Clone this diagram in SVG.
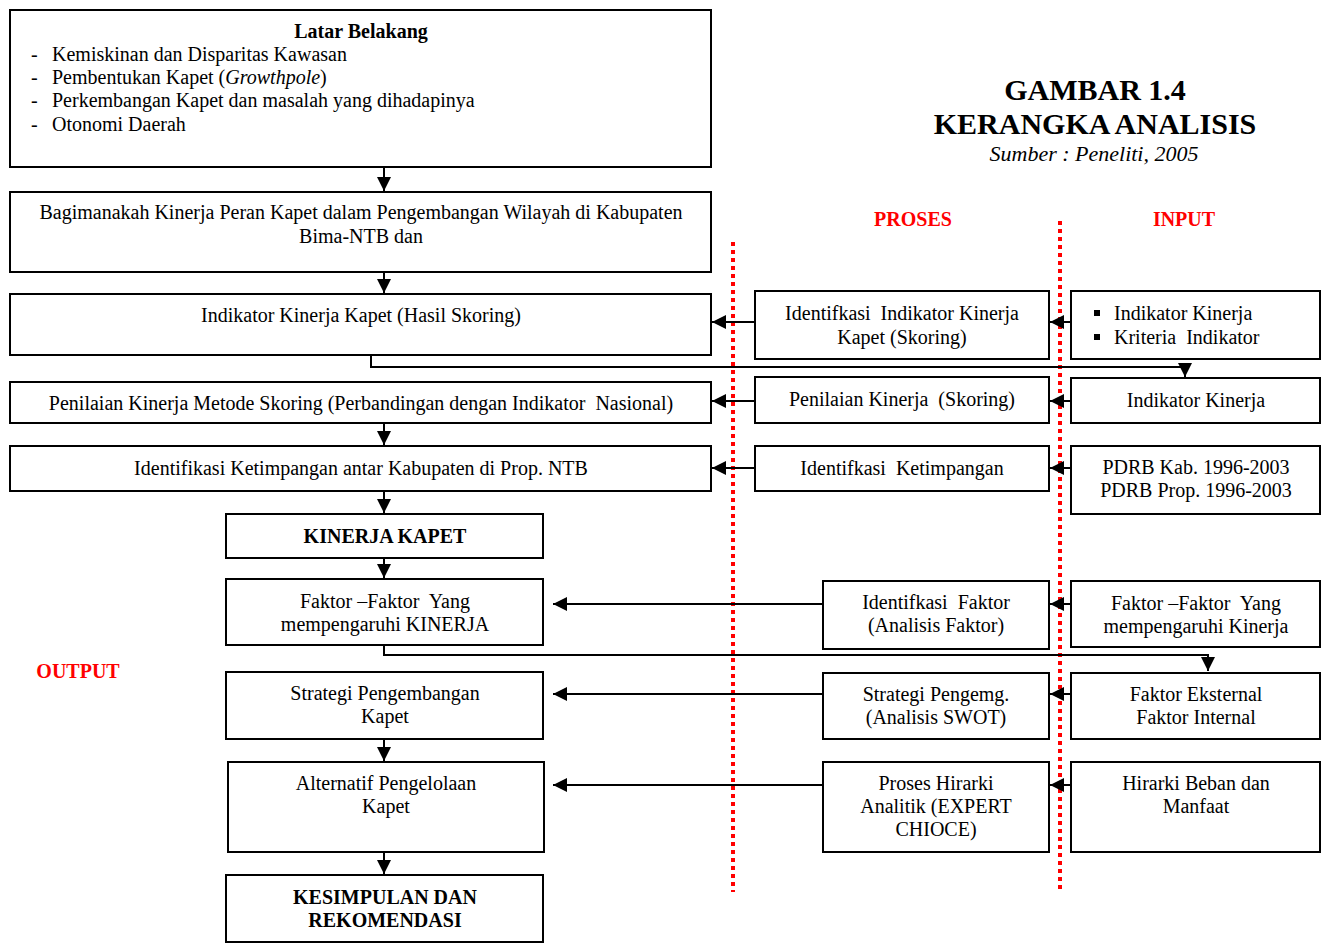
<svg xmlns="http://www.w3.org/2000/svg" width="1332" height="948" viewBox="0 0 1332 948" xml:space="preserve">
<style>
.b{fill:#fff;stroke:#000;stroke-width:2}
.t{font-family:"Liberation Serif","Times New Roman",serif;font-size:20px;fill:#000;text-anchor:middle;white-space:pre}
.l{text-anchor:start}
.bd{font-weight:bold}
.c{stroke:#000;stroke-width:2;fill:none}
.red{font-family:"Liberation Serif","Times New Roman",serif;font-size:20px;font-weight:bold;fill:#ff0000;text-anchor:middle}
.dot{stroke:#ff0000;stroke-width:4;stroke-dasharray:4 4;fill:none}
</style>
<defs>
<marker id="ah" markerUnits="userSpaceOnUse" markerWidth="16" markerHeight="16" viewBox="0 0 16 16" refX="14" refY="8" orient="auto">
<path d="M0,1 L14,8 L0,15 Z" fill="#000"/>
</marker>
</defs>
<rect width="1332" height="948" fill="#fff"/>
<g id="title">
<text class="t bd" x="1095" y="100" style="font-size:30px">GAMBAR 1.4</text>
<text class="t bd" x="1095" y="134" style="font-size:30px">KERANGKA ANALISIS</text>
<text class="t" x="1094" y="161" style="font-style:italic;font-size:22px">Sumber : Peneliti, 2005</text>
</g>
<g id="labels">
<text class="red" x="913" y="226">PROSES</text>
<text class="red" x="1184" y="226">INPUT</text>
<text class="red" x="78" y="678">OUTPUT</text>
</g>
<g id="dividers">
<line class="dot" x1="733" y1="242" x2="733" y2="892"/>
<line class="dot" x1="1060" y1="221" x2="1060" y2="892"/>
</g>
<g id="latar">
<rect class="b" x="10" y="10" width="701" height="157"/>
<text class="t bd" x="361" y="38">Latar Belakang</text>
<text class="t l" x="31" y="61">-</text><text class="t l" x="52" y="61">Kemiskinan dan Disparitas Kawasan</text>
<text class="t l" x="31" y="84">-</text><text class="t l" x="52" y="84">Pembentukan Kapet (<tspan font-style="italic">Growthpole</tspan>)</text>
<text class="t l" x="31" y="107">-</text><text class="t l" x="52" y="107">Perkembangan Kapet dan masalah yang dihadapinya</text>
<text class="t l" x="31" y="131">-</text><text class="t l" x="52" y="131">Otonomi Daerah</text>
</g>
<g id="rumusan">
<rect class="b" x="10" y="192" width="701" height="80"/>
<text class="t" x="361" y="219">Bagimanakah Kinerja Peran Kapet dalam Pengembangan Wilayah di Kabupaten</text>
<text class="t" x="361" y="243">Bima-NTB dan</text>
</g>
<g id="o_indikator">
<rect class="b" x="10" y="294" width="701" height="61"/>
<text class="t" x="361" y="322">Indikator Kinerja Kapet (Hasil Skoring)</text>
</g>
<g id="o_penilaian">
<rect class="b" x="10" y="382" width="701" height="41"/>
<text class="t" x="361" y="410">Penilaian Kinerja Metode Skoring (Perbandingan dengan Indikator  Nasional)</text>
</g>
<g id="o_ketimpangan">
<rect class="b" x="10" y="446" width="701" height="45"/>
<text class="t" x="361" y="475">Identifikasi Ketimpangan antar Kabupaten di Prop. NTB</text>
</g>
<g id="o_kinerja">
<rect class="b" x="226" y="514" width="317" height="44"/>
<text class="t bd" x="385" y="543">KINERJA KAPET</text>
</g>
<g id="o_faktor">
<rect class="b" x="226" y="579" width="317" height="66"/>
<text class="t" x="385" y="608">Faktor –Faktor  Yang</text>
<text class="t" x="385" y="631">mempengaruhi KINERJA</text>
</g>
<g id="o_strategi">
<rect class="b" x="226" y="672" width="317" height="67"/>
<text class="t" x="385" y="700">Strategi Pengembangan</text>
<text class="t" x="385" y="723">Kapet</text>
</g>
<g id="o_alternatif">
<rect class="b" x="228" y="762" width="316" height="90"/>
<text class="t" x="386" y="790">Alternatif Pengelolaan</text>
<text class="t" x="386" y="813">Kapet</text>
</g>
<g id="o_kesimpulan">
<rect class="b" x="226" y="875" width="317" height="67"/>
<text class="t bd" x="385" y="904">KESIMPULAN DAN</text>
<text class="t bd" x="385" y="927">REKOMENDASI</text>
</g>
<g id="p1">
<rect class="b" x="755" y="291" width="294" height="68"/>
<text class="t" x="902" y="320">Identifkasi  Indikator Kinerja</text>
<text class="t" x="902" y="344">Kapet (Skoring)</text>
</g>
<g id="p2">
<rect class="b" x="755" y="377" width="294" height="46"/>
<text class="t" x="902" y="406">Penilaian Kinerja  (Skoring)</text>
</g>
<g id="p3">
<rect class="b" x="755" y="446" width="294" height="45"/>
<text class="t" x="902" y="475">Identifkasi  Ketimpangan</text>
</g>
<g id="p4">
<rect class="b" x="823" y="581" width="226" height="68"/>
<text class="t" x="936" y="609">Identifkasi  Faktor</text>
<text class="t" x="936" y="632">(Analisis Faktor)</text>
</g>
<g id="p5">
<rect class="b" x="823" y="673" width="226" height="66"/>
<text class="t" x="936" y="701">Strategi Pengemg.</text>
<text class="t" x="936" y="724">(Analisis SWOT)</text>
</g>
<g id="p6">
<rect class="b" x="823" y="762" width="226" height="90"/>
<text class="t" x="936" y="790">Proses Hirarki</text>
<text class="t" x="936" y="813">Analitik (EXPERT</text>
<text class="t" x="936" y="836">CHIOCE)</text>
</g>
<g id="i1">
<rect class="b" x="1071" y="291" width="249" height="68"/>
<rect x="1094" y="310" width="6" height="6" fill="#000"/>
<rect x="1094" y="334" width="6" height="6" fill="#000"/>
<text class="t l" x="1114" y="320">Indikator Kinerja</text>
<text class="t l" x="1114" y="344">Kriteria  Indikator</text>
</g>
<g id="i2">
<rect class="b" x="1071" y="378" width="249" height="45"/>
<text class="t" x="1196" y="407">Indikator Kinerja</text>
</g>
<g id="i3">
<rect class="b" x="1071" y="446" width="249" height="68"/>
<text class="t" x="1196" y="474">PDRB Kab. 1996-2003</text>
<text class="t" x="1196" y="497">PDRB Prop. 1996-2003</text>
</g>
<g id="i4">
<rect class="b" x="1071" y="581" width="249" height="66"/>
<text class="t" x="1196" y="610">Faktor –Faktor  Yang</text>
<text class="t" x="1196" y="633">mempengaruhi Kinerja</text>
</g>
<g id="i5">
<rect class="b" x="1071" y="673" width="249" height="66"/>
<text class="t" x="1196" y="701">Faktor Eksternal</text>
<text class="t" x="1196" y="724">Faktor Internal</text>
</g>
<g id="i6">
<rect class="b" x="1071" y="762" width="249" height="90"/>
<text class="t" x="1196" y="790">Hirarki Beban dan</text>
<text class="t" x="1196" y="813">Manfaat</text>
</g>
<g id="connectors">
<line class="c" x1="384" y1="167" x2="384" y2="191" marker-end="url(#ah)"/>
<line class="c" x1="384" y1="272" x2="384" y2="293" marker-end="url(#ah)"/>
<polyline class="c" points="371,355 371,367 1185,367 1185,377" marker-end="url(#ah)"/>
<line class="c" x1="384" y1="423" x2="384" y2="445" marker-end="url(#ah)"/>
<line class="c" x1="384" y1="491" x2="384" y2="513" marker-end="url(#ah)"/>
<line class="c" x1="384" y1="558" x2="384" y2="578" marker-end="url(#ah)"/>
<polyline class="c" points="384,645 384,655 1208,655 1208,671" marker-end="url(#ah)"/>
<line class="c" x1="384" y1="739" x2="384" y2="761" marker-end="url(#ah)"/>
<line class="c" x1="384" y1="852" x2="384" y2="874" marker-end="url(#ah)"/>
<line class="c" x1="755" y1="322" x2="712" y2="322" marker-end="url(#ah)"/>
<line class="c" x1="1071" y1="322" x2="1050" y2="322" marker-end="url(#ah)"/>
<line class="c" x1="755" y1="401" x2="712" y2="401" marker-end="url(#ah)"/>
<line class="c" x1="1071" y1="401" x2="1050" y2="401" marker-end="url(#ah)"/>
<line class="c" x1="755" y1="468" x2="712" y2="468" marker-end="url(#ah)"/>
<line class="c" x1="1071" y1="468" x2="1050" y2="468" marker-end="url(#ah)"/>
<line class="c" x1="823" y1="604" x2="553" y2="604" marker-end="url(#ah)"/>
<line class="c" x1="1071" y1="604" x2="1050" y2="604" marker-end="url(#ah)"/>
<line class="c" x1="823" y1="694" x2="553" y2="694" marker-end="url(#ah)"/>
<line class="c" x1="1071" y1="694" x2="1050" y2="694" marker-end="url(#ah)"/>
<line class="c" x1="823" y1="785" x2="553" y2="785" marker-end="url(#ah)"/>
<line class="c" x1="1071" y1="785" x2="1050" y2="785" marker-end="url(#ah)"/>
</g>
</svg>
